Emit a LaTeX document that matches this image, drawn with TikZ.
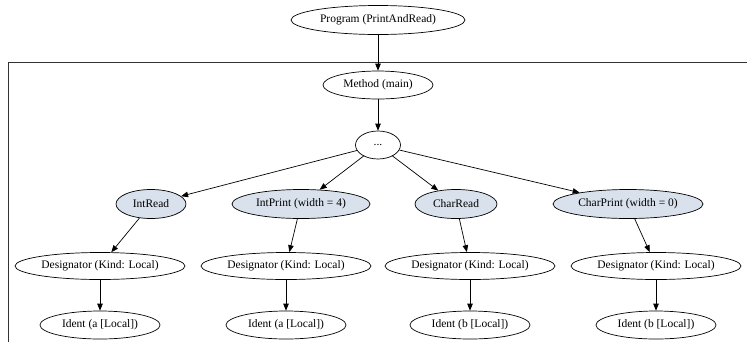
\documentclass[tikz,border=0pt]{standalone}
\usepackage{fontspec}
\setmainfont{Liberation Serif}
\usetikzlibrary{shapes.geometric,arrows.meta}
\definecolor{stmtfill}{RGB}{216,225,236}
\tikzset{
  x=1pt, y=-1pt,
  astnode/.style={draw, ellipse, inner sep=0pt, line width=0.7pt,
    font=\fontsize{11.5}{13}\selectfont},
  stmtnode/.style={astnode, fill=stmtfill},
  edge/.style={draw, line width=0.7pt, -{Triangle[length=7pt,width=5.5pt]}},
  frameline/.style={draw, line width=0.8pt, black!80}
}
\begin{document}
\begin{tikzpicture}
\useasboundingbox (0,0) rectangle (747,341);
\clip (0,0) rectangle (747,341);
\fill[white] (0,0) rectangle (747,341);

% method cluster frame
\draw[frameline] (8.5,360) |- (770,62.5);

% nodes
\node[astnode, minimum width=174pt, minimum height=29pt] (prog) at (378,20) {Program (PrintAndRead)};
\node[astnode, minimum width=110pt, minimum height=28pt] (meth) at (378,85) {Method (main)};
\node[astnode, minimum width=45pt, minimum height=28pt] (blk) at (378,145) {...};

\node[stmtnode, minimum width=70pt, minimum height=29pt] (s1) at (151,204) {IntRead};
\node[stmtnode, minimum width=138pt, minimum height=29pt] (s2) at (301,204) {IntPrint (width = 4)};
\node[stmtnode, minimum width=82pt, minimum height=29pt] (s3) at (456,204) {CharRead};
\node[stmtnode, minimum width=150pt, minimum height=29pt] (s4) at (628,204) {CharPrint (width = 0)};

\node[astnode, minimum width=170pt, minimum height=27pt] (d1) at (100,266) {Designator (Kind: Local)};
\node[astnode, minimum width=170pt, minimum height=27pt] (d2) at (286,266) {Designator (Kind: Local)};
\node[astnode, minimum width=170pt, minimum height=27pt] (d3) at (470,266) {Designator (Kind: Local)};
\node[astnode, minimum width=170pt, minimum height=27pt] (d4) at (656,266) {Designator (Kind: Local)};

\node[astnode, minimum width=120pt, minimum height=28pt] (i1) at (100,325) {Ident (a [Local])};
\node[astnode, minimum width=120pt, minimum height=28pt] (i2) at (286,325) {Ident (a [Local])};
\node[astnode, minimum width=120pt, minimum height=28pt] (i3) at (470,325) {Ident (b [Local])};
\node[astnode, minimum width=120pt, minimum height=28pt] (i4) at (656,325) {Ident (b [Local])};

% edges
\draw[edge] (prog) -- (meth);
\draw[edge] (meth) -- (blk);
\foreach \s in {s1,s2,s3,s4} \draw[edge] (blk) -- (\s);
\draw[edge] (s1) -- (d1);
\draw[edge] (s2) -- (d2);
\draw[edge] (s3) -- (d3);
\draw[edge] (s4) -- (d4);
\draw[edge] (d1) -- (i1);
\draw[edge] (d2) -- (i2);
\draw[edge] (d3) -- (i3);
\draw[edge] (d4) -- (i4);
\end{tikzpicture}
\end{document}
